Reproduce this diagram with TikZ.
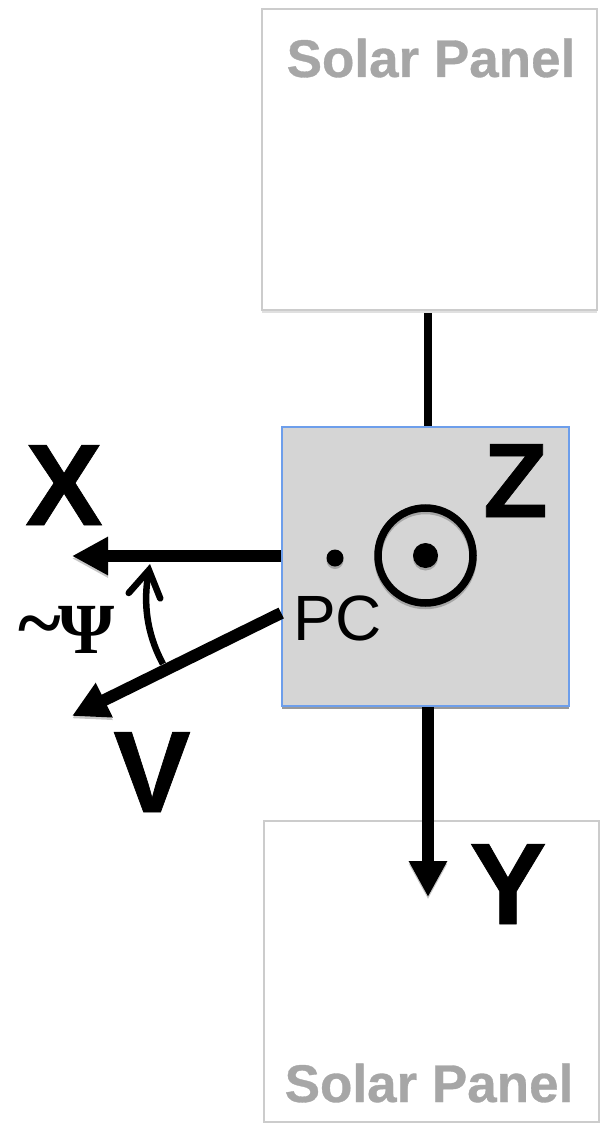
\documentclass[tikz,border=0pt]{standalone}
\usepackage{fontspec}
\setmainfont{Liberation Sans}[BoldFeatures={FakeBold=0.6}]
\newfontfamily\serifpsi{Liberation Serif}
\usetikzlibrary{arrows.meta,shadows}
\definecolor{panelline}{HTML}{CCCCCC}
\definecolor{paneltext}{HTML}{A6A6A6}
\definecolor{bodyfill}{HTML}{D5D5D5}
\definecolor{bodyline}{HTML}{6D9EEB}
\tikzset{
  px/.style={x=1pt,y=-1pt},
  softshade/.style={preaction={draw=black,opacity=.22,transform canvas={yshift=-2.5pt}}},
  panelbox/.style={draw=panelline,line width=2pt,fill=white,inner sep=0pt,minimum width=335pt,minimum height=301pt,
    drop shadow={shadow xshift=0pt,shadow yshift=-3pt,opacity=.12,fill=black}},
  bodybox/.style={draw=bodyline,line width=1.6pt,fill=bodyfill,inner sep=0pt,minimum width=287pt,minimum height=279pt,
    drop shadow={shadow xshift=0pt,shadow yshift=-3pt,opacity=.4,fill=black}},
  paneltxt/.style={anchor=base,inner sep=0pt,text=paneltext,font=\fontsize{53}{60}\selectfont\bfseries},
  axistxt/.style={anchor=base,inner sep=0pt,font=\fontsize{116}{130}\selectfont\bfseries},
  dotmark/.style={circle,fill=black,inner sep=0pt,drop shadow={shadow xshift=0pt,shadow yshift=-2.5pt,opacity=.22,fill=black}},
  axisarrow/.style={line width=12pt,draw=black,softshade,-{Triangle[length=36pt,width=36pt]}},
}
\begin{document}
\begin{tikzpicture}[px]
\useasboundingbox (0,0) rectangle (600,1123);
\node[panelbox] (toppanel) at (429.5,159.5) {};
\node[panelbox] (botpanel) at (431.5,971.5) {};
\node[paneltxt] (toplabel) at (431,77) {Solar Panel};
\node[paneltxt] (botlabel) at (429,1102) {Solar Panel};
\node[bodybox] (body) at (425.5,566.5) {};
\coordinate (xstart) at (body.west |- 0,556);
\coordinate (xtip) at (72,556);
\coordinate (vstart) at (body.west |- 0,613);
\coordinate (vtip) at (72,716);
\coordinate (ytip) at (428,897);
\coordinate (arcstart) at (163,664);
\coordinate (arctip) at (150,564);
\draw[line width=8pt] (toppanel.south -| 428,0) ++(0,2) -- (body.north -| 428,0);
\draw[axisarrow] (body.south -| 428,0) -- (ytip);
\draw[axisarrow] (xstart) -- (xtip);
\draw[axisarrow] (vstart) -- (vtip);
\draw[line width=6.5pt,-{Straight Barb[length=26pt,width=32pt,line cap=round,line width=6.5pt]}]
  (arcstart) .. controls (150,640) and (142,610) .. (arctip);
\node[dotmark,minimum size=17pt] (pcdot) at (335,558) {};
\node[dotmark,minimum size=25pt] (zdot) at (425.5,555.5) {};
\node[circle,draw=black,softshade,line width=7.5pt,minimum size=95pt,inner sep=0pt] (zring) at (425.5,555.5) {};
\node[anchor=base west,inner sep=0pt,font=\fontsize{64}{70}\selectfont] (pc) at (293,640) {PC};
\node[axistxt] (xl) at (64,525) {X};
\node[axistxt,font=\fontsize{106}{120}\selectfont\bfseries] (zl) at (515.5,517) {Z};
\node[axistxt] (vl) at (152,812) {V};
\node[axistxt] (yl) at (508,924) {Y};
\node[anchor=base,inner sep=0pt,font=\fontsize{82}{90}\serifpsi\bfseries] (tilde) at (40,650) {\textasciitilde};
\node[anchor=base,inner sep=0pt,font=\fontsize{72}{80}\serifpsi\bfseries] (psi) at (87,653) {Ψ};
\end{tikzpicture}
\end{document}
